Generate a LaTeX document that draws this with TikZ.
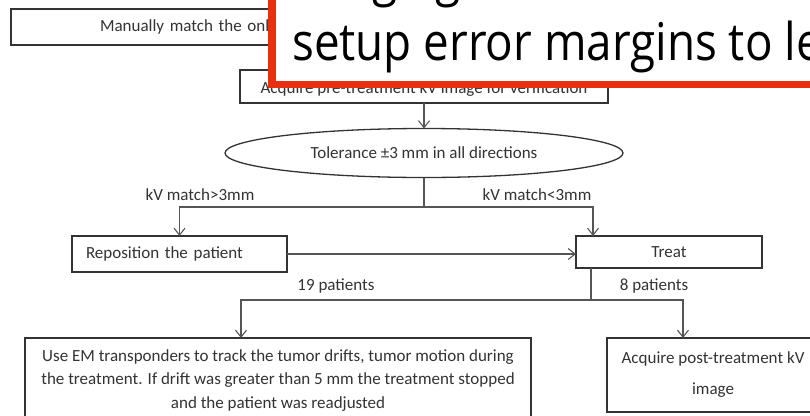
\documentclass[tikz,border=0pt]{standalone}
\usepackage{fontspec}
\setmainfont{Carlito}
\newfontfamily\calloutfont[FakeStretch=0.88]{Open Sans}
\usetikzlibrary{arrows.meta,shapes.geometric}
\definecolor{inkgray}{HTML}{333333}
\definecolor{linegray}{HTML}{555555}
\definecolor{calloutred}{RGB}{232,48,16}

\tikzset{
  flowbox/.style={draw=inkgray, line width=1.3pt, fill=white, rectangle, inner sep=0pt,
    outer sep=0pt, text=inkgray, font=\fontsize{17}{23.5}\selectfont},
  flowlabel/.style={text=inkgray, inner sep=0pt, font=\fontsize{17}{20}\selectfont},
  link/.style={draw=linegray, line width=1.1pt},
  arrowlink/.style={link, -{Straight Barb[length=7pt,width=11pt,line width=1.1pt]}},
  calloutframe/.style={draw=calloutred, line width=7.5pt, fill=white, inner sep=0pt, outer sep=0pt},
  callouttext/.style={anchor=base west, inner sep=0pt, text=black,
    font=\calloutfont\fontsize{52}{62}\selectfont},
}

\begin{document}
\begin{tikzpicture}[x=1pt,y=-1pt]
\clip (0,0) rectangle (810,415);
\fill[white] (0,0) rectangle (810,415);

% process steps
\node[flowbox, anchor=north west, minimum width=830pt, minimum height=36pt,
  inner xsep=89pt, text width=652pt, align=left] (match) at (11,9) {Manually match the online};
\node[flowbox, minimum width=368pt, minimum height=33pt, text height=14pt, text depth=1pt] (pre) at (424,86.5)
  {Acquire pre-treatment kV image for verification};
\node[flowbox, ellipse, minimum width=398pt, minimum height=49pt] (tol) at (424,153)
  {Tolerance ±3 mm in all directions};
\node[flowbox, minimum width=215pt, minimum height=36pt, inner xsep=14pt,
  text width=187pt, align=left] (repos) at (179.5,254) {Reposition the patient};
\node[flowbox, minimum width=186pt, minimum height=32pt] (treat) at (669,252) {Treat};
\node[flowbox, minimum width=506pt, minimum height=85pt, align=center] (track) at (278,380.5)
  {Use EM transponders to track the tumor drifts, tumor motion during\\
   the treatment. If drift was greater than 5 mm the treatment stopped\\
   and the patient was readjusted};
\node[flowbox, minimum width=212pt, minimum height=74pt, align=center] (post) at (713,375)
  {Acquire post-treatment kV\\[7.5pt]image};

% branch points
\coordinate (split) at (424,207);
\coordinate (treatIn) at ([xshift=17pt]treat.north west);
\coordinate (treatOut) at ([xshift=15pt]treat.south west);
\coordinate (fork) at (591,300);
\coordinate (trackIn) at ([xshift=216pt]track.north west);
\coordinate (postIn) at ([xshift=76pt]post.north west);

% connectors
\draw[arrowlink] (pre.south) -- (tol.north);
\draw[link] (tol.south) -- (split);
\draw[arrowlink] (split) -| (repos.north);
\draw[arrowlink] (split) -| (treatIn);
\draw[arrowlink] (repos.east) -- (repos.east -| treat.west);
\draw[link] (treatOut) -- (fork);
\draw[arrowlink] (fork) -| (trackIn);
\draw[arrowlink] (fork) -| (postIn);

% branch labels
\node[flowlabel] (gt) at (200,195) {kV match>3mm};
\node[flowlabel] (lt) at (537,195) {kV match<3mm};
\node[flowlabel] (n19) at (336,286) {19 patients};
\node[flowlabel] (n8) at (654,286) {8 patients};

% callout laid over the top of the chart
\node[calloutframe, anchor=south west, minimum width=600pt, minimum height=130pt] (callout) at (272,84.25) {};
\node[callouttext] (calloutA) at (292,-5) {Image guidance was used to};
\node[callouttext] (calloutB) at (292,60) {setup error margins to less};
\end{tikzpicture}
\end{document}
